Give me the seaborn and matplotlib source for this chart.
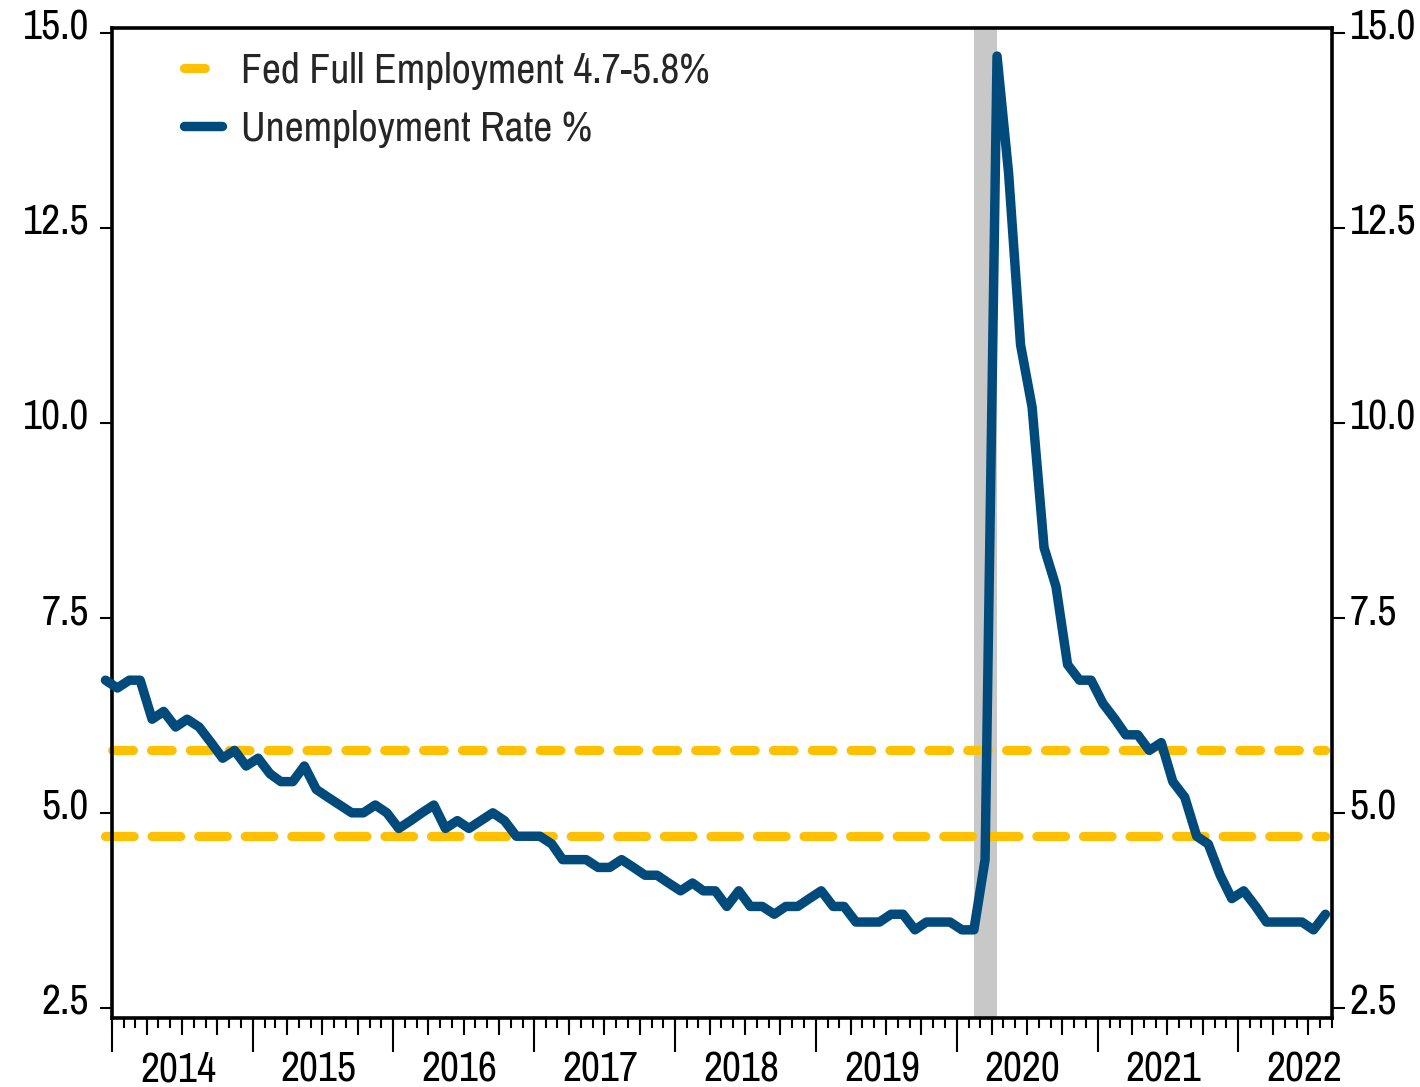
import numpy as np
import pandas as pd
import matplotlib
matplotlib.use("Agg")
import matplotlib.pyplot as plt
import matplotlib.dates as mdates
from matplotlib import font_manager
from matplotlib.lines import Line2D
from matplotlib.transforms import ScaledTranslation
import seaborn as sns

# DATA
# monthly unemployment rate %, Dec 2013 .. Aug 2022
first_month = "2013-12-01"
unemployment = [
    6.7,
    6.6, 6.7, 6.7, 6.2, 6.3, 6.1, 6.2, 6.1, 5.9, 5.7, 5.8, 5.6,   # 2014
    5.7, 5.5, 5.4, 5.4, 5.6, 5.3, 5.2, 5.1, 5.0, 5.0, 5.1, 5.0,   # 2015
    4.8, 4.9, 5.0, 5.1, 4.8, 4.9, 4.8, 4.9, 5.0, 4.9, 4.7, 4.7,   # 2016
    4.7, 4.6, 4.4, 4.4, 4.4, 4.3, 4.3, 4.4, 4.3, 4.2, 4.2, 4.1,   # 2017
    4.0, 4.1, 4.0, 4.0, 3.8, 4.0, 3.8, 3.8, 3.7, 3.8, 3.8, 3.9,   # 2018
    4.0, 3.8, 3.8, 3.6, 3.6, 3.6, 3.7, 3.7, 3.5, 3.6, 3.6, 3.6,   # 2019
    3.5, 3.5, 4.4, 14.7, 13.2, 11.0, 10.2, 8.4, 7.9, 6.9, 6.7, 6.7,  # 2020
    6.4, 6.2, 6.0, 6.0, 5.8, 5.9, 5.4, 5.2, 4.7, 4.6, 4.2, 3.9,   # 2021
    4.0, 3.8, 3.6, 3.6, 3.6, 3.6, 3.5, 3.7,                       # 2022
]
fed_low = 4.7
fed_high = 5.8
recession_start = "2020-02-15"
recession_end = "2020-04-15"
year_labels = ["2014", "2015", "2016", "2017", "2018", "2019", "2020", "2021", "2022"]
y_ticks = [2.5, 5.0, 7.5, 10.0, 12.5, 15.0]
labels = ["Fed Full Employment 4.7-5.8%", "Unemployment Rate %"]

blue = "#004A7C"
yellow = "#FFC000"

# dates plotted mid-month
dates = pd.date_range(first_month, periods=len(unemployment), freq="MS") + pd.Timedelta(days=14)
df = pd.DataFrame({"x": mdates.date2num(dates), "rate": unemployment})

sns.set_theme(style="white")

# look for a narrow sans font, the chart uses an Arial Narrow look
narrow_fam, narrow_stretch = None, "normal"
for f in font_manager.fontManager.ttflist:
    if "Narrow" in f.name or "Condensed" in f.name:
        narrow_fam, narrow_stretch = f.name, f.stretch
        break
if narrow_fam is None:
    for f in font_manager.fontManager.ttflist:
        if f.name in ("DejaVu Sans", "Roboto", "Open Sans", "Noto Sans") and str(f.stretch) in ("condensed", "semi-condensed", "extra-condensed"):
            narrow_fam, narrow_stretch = f.name, f.stretch
            break

if narrow_fam is not None:
    plt.rcParams["font.family"] = [narrow_fam, "Liberation Sans", "DejaVu Sans"]
    plt.rcParams["font.stretch"] = narrow_stretch
    fs = 30
    lspace = 0.48
else:
    plt.rcParams["font.family"] = ["Liberation Sans", "DejaVu Sans"]
    fs = 25
    lspace = 0.72
plt.rcParams["font.size"] = fs

fig = plt.figure(figsize=(14.2, 10.87), dpi=100)
ax = fig.add_axes([112 / 1420, 1 - 1018 / 1087, 1220 / 1420, 990 / 1087])

# recession shading
ax.axvspan(mdates.date2num(pd.Timestamp(recession_start)), mdates.date2num(pd.Timestamp(recession_end)),
           color="#C8C8C8", lw=0, zorder=0)

# full employment band edges
x0, x1 = df["x"].iloc[0], df["x"].iloc[-1]
ax.plot([x0, x1], [fed_high, fed_high], color=yellow, lw=6.6, linestyle=(3.46, (2.26, 1.98)),
        dash_capstyle="round", clip_on=False, zorder=2)
ax.plot([x0, x1], [fed_low, fed_low], color=yellow, lw=6.6, linestyle=(0, (3.13, 1.95)),
        dash_capstyle="round", clip_on=False, zorder=2)

# unemployment rate
sns.lineplot(data=df, x="x", y="rate", ax=ax, color=blue, lw=6.8, zorder=3)
for ln in ax.lines[-1:]:
    ln.set_clip_on(False)
    ln.set_solid_capstyle("round")
    ln.set_solid_joinstyle("round")

# axes limits
ax.set_xlim(mdates.date2num(pd.Timestamp("2014-01-01")), mdates.date2num(pd.Timestamp("2022-09-01")))
ax.set_ylim(2.37, 15.06)
ax.set_xlabel("")
ax.set_ylabel("")

for s in ax.spines.values():
    s.set_visible(True)
    s.set_color("black")
    s.set_linewidth(2.6)

# x axis: year labels centered, monthly minor ticks
year_starts = pd.date_range("2014-01-01", periods=len(year_labels), freq="YS")
mid_years = year_starts + pd.Timedelta(days=182)
months = pd.date_range("2014-01-01", "2022-09-01", freq="MS")
quarters = pd.date_range("2014-01-01", "2022-09-01", freq="QS")

ax.set_xticks(mdates.date2num(mid_years))
ax.set_xticklabels(year_labels)
ax.set_xticks(mdates.date2num(months), minor=True)
ax.tick_params(axis="x", which="major", length=0, pad=23.5, labelsize=fs, colors="black")
ax.tick_params(axis="x", which="minor", bottom=True, length=7.2, width=1.5, color="black")

sec = ax.secondary_xaxis("bottom")
sec.spines["bottom"].set_visible(False)
sec.set_xticks(mdates.date2num(year_starts))
sec.set_xticks(mdates.date2num(quarters), minor=True)
sec.tick_params(axis="x", which="major", length=24.5, width=1.5, color="black", labelbottom=False)
sec.tick_params(axis="x", which="minor", length=12, width=1.5, color="black", labelbottom=False)

# y axes on both sides
ax.set_yticks(y_ticks)
ax.set_yticklabels([f"{v:.1f}" for v in y_ticks])
ax.tick_params(axis="y", left=True, length=8.6, width=1.5, pad=8, labelsize=fs, colors="black")

ax2 = ax.twinx()
ax2.set_ylim(ax.get_ylim())
ax2.set_yticks(y_ticks)
ax2.set_yticklabels([f"{v:.1f}" for v in y_ticks])
ax2.tick_params(axis="y", right=True, length=9, width=1.5, pad=3.6, labelsize=fs, colors="black")
ax2.grid(False)
for s in ax2.spines.values():
    s.set_visible(False)

# lift the y labels a bit above their ticks, nudge year labels left
lift = ScaledTranslation(0, 0.09, fig.dpi_scale_trans)
for lab in ax.get_yticklabels() + ax2.get_yticklabels():
    lab.set_transform(lab.get_transform() + lift)
nudge = ScaledTranslation(-0.04, 0, fig.dpi_scale_trans)
for lab in ax.get_xticklabels():
    lab.set_transform(lab.get_transform() + nudge)

# legend
handles = [
    Line2D([], [], color=yellow, lw=6.6, linestyle=(0, (2.26, 1.98)), dash_capstyle="round"),
    Line2D([], [], color=blue, lw=6.8, solid_capstyle="round"),
]
ax.legend(handles, labels, loc="upper left", bbox_to_anchor=(0.0594, 0.976), frameon=False,
          fontsize=fs, handlelength=37.5 / (fs * 100 / 72), handletextpad=0.46, labelspacing=lspace,
          borderpad=0, borderaxespad=0)

fig.savefig("out.png", dpi=100)
